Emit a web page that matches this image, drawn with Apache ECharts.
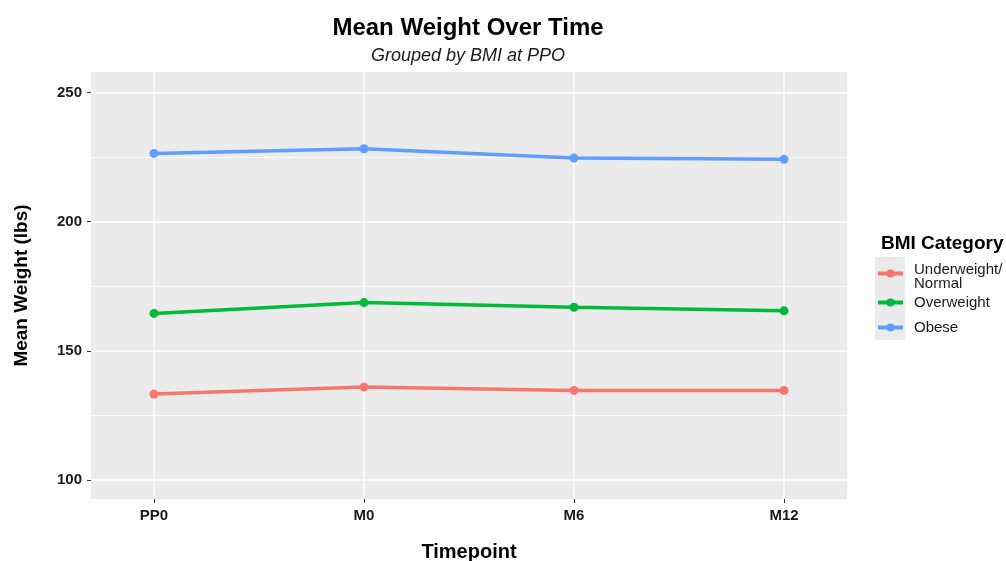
<!DOCTYPE html>
<html>
<head>
<meta charset="utf-8">
<script src="https://cdn.jsdelivr.net/npm/echarts@6/dist/echarts.min.js"></script>
<style>
html,body{margin:0;padding:0;background:#fff;}
#chart{width:1006px;height:561px;}
</style>
</head>
<body>
<div id="chart"></div>
<script>
const timepoints = ['PP0', 'M0', 'M6', 'M12'];
const underweightNormal = [133.3, 136.0, 134.7, 134.7];
const overweight = [164.5, 168.7, 166.9, 165.5];
const obese = [226.4, 228.2, 224.6, 224.1];
const yMajorTicks = [100, 150, 200, 250];
const yMinorTicks = [125, 175, 225];
const seriesNames = ['Underweight/Normal', 'Overweight', 'Obese'];
const seriesColors = ['#F8766D', '#00BA38', '#619CFF'];
const seriesValues = [underweightNormal, overweight, obese];

const FONT = '"Liberation Sans", Arial, sans-serif';
const chart = echarts.init(document.getElementById('chart'), null, {renderer: 'canvas', width: 1006, height: 561});

const xIdx = timepoints.map((t, i) => i);
const yMin = 92.7, yMax = 257.9;

const series = seriesNames.map((name, k) => ({
  name: name,
  type: 'line',
  xAxisIndex: 0,
  yAxisIndex: 0,
  data: seriesValues[k].map((v, i) => [i, v]),
  symbol: 'circle',
  symbolSize: 9,
  lineStyle: {width: 3.5, color: seriesColors[k]},
  itemStyle: {color: seriesColors[k]},
  emphasis: {disabled: true},
  z: 3
}));

const legendFormat = [
  '{s| }\n{a|Underweight/}\n{a|Normal}',
  '{a|Overweight}',
  '{a|Obese}'
];
const legendTops = [259, 295, 320];
const legends = seriesNames.map((name, k) => ({
  data: [name],
  left: 876,
  top: legendTops[k],
  orient: 'vertical',
  padding: 0,
  itemWidth: 25,
  itemHeight: 10,
  selectedMode: false,
  lineStyle: {width: 4},
  formatter: () => legendFormat[k],
  textStyle: {
    fontFamily: FONT, fontSize: 15, color: '#1a1a1a',
    rich: {
      a: {fontFamily: FONT, fontSize: 15, color: '#1a1a1a', lineHeight: 14, padding: [0, 0, 0, 6]},
      s: {fontSize: 1, lineHeight: 6}
    }
  }
}));

const option = {
  backgroundColor: '#ffffff',
  animation: false,
  title: [
    {text: 'Mean Weight Over Time', left: 468, top: 16, textAlign: 'center', padding: 0,
     textStyle: {fontFamily: FONT, fontSize: 24, fontWeight: 'bold', color: '#000'}},
    {text: 'Grouped by BMI at PPO', left: 468, top: 47, textAlign: 'center', padding: 0,
     textStyle: {fontFamily: FONT, fontSize: 18, fontStyle: 'italic', fontWeight: 'normal', color: '#1a1a1a'}},
    {text: 'BMI Category', left: 881, top: 234, padding: 0,
     textStyle: {fontFamily: FONT, fontSize: 19, fontWeight: 'bold', color: '#000'}}
  ],
  graphic: [
    {type: 'rect', left: 875, top: 257, shape: {width: 30, height: 83}, style: {fill: '#ebebeb'}, z: -1}
  ],
  legend: legends,
  grid: {left: 91, top: 72, width: 756, height: 427, show: true, backgroundColor: '#ebebeb', borderWidth: 0,
         containLabel: false, outerBoundsMode: 'none'},
  xAxis: {
    type: 'value',
    min: -0.3,
    max: 3.3,
    axisLine: {show: false, onZero: false},
    axisTick: {show: true, length: 4, lineStyle: {color: '#333', width: 1}, customValues: xIdx},
    axisLabel: {customValues: xIdx, formatter: v => timepoints[Math.round(v)], margin: 9,
      fontFamily: FONT, fontSize: 15, fontWeight: 'bold', color: '#1a1a1a'},
    splitLine: {show: true, lineStyle: {color: '#ffffff', width: 1.5}},
    name: 'Timepoint',
    nameLocation: 'middle',
    nameGap: 43,
    nameTextStyle: {fontFamily: FONT, fontSize: 20, fontWeight: 'bold', color: '#000'}
  },
  yAxis: [{
    type: 'value',
    min: yMin,
    max: yMax,
    axisLine: {show: false, onZero: false},
    axisTick: {show: true, length: 4, lineStyle: {color: '#333', width: 1}, customValues: yMajorTicks},
    axisLabel: {customValues: yMajorTicks, margin: 9,
      fontFamily: FONT, fontSize: 15, fontWeight: 'bold', color: '#1a1a1a'},
    splitLine: {show: true, lineStyle: {color: '#ffffff', width: 1.5}},
    name: 'Mean Weight (lbs)',
    nameLocation: 'middle',
    nameGap: 60,
    nameTextStyle: {fontFamily: FONT, fontSize: 19, fontWeight: 'bold', color: '#000'}
  }, {
    type: 'value',
    position: 'left',
    min: yMin,
    max: yMax,
    axisLine: {show: false, onZero: false},
    axisTick: {show: false, customValues: yMinorTicks},
    axisLabel: {show: false, customValues: yMinorTicks},
    splitLine: {show: true, lineStyle: {color: '#ffffff', width: 0.8}}
  }],
  series: series
};
chart.setOption(option);
</script>
</body>
</html>
